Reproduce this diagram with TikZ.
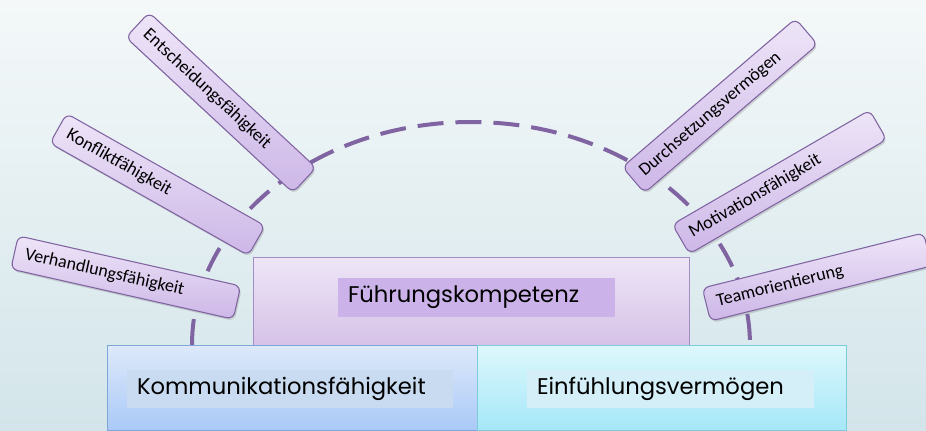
\documentclass[tikz,border=0pt]{standalone}
\usepackage{fontspec}
\setmainfont{Carlito}
\newfontfamily\gothic{Poppins}
\usetikzlibrary{shadows}
\definecolor{lila}{HTML}{8064A2}
\definecolor{skilltop}{HTML}{EEE5F8}
\definecolor{skillbot}{HTML}{CDB7E7}
\definecolor{bgtop}{HTML}{F4F8F9}
\definecolor{bgbot}{HTML}{D3E5EA}
\definecolor{fuetop}{HTML}{EEE6F7}
\definecolor{fuebot}{HTML}{D6C2E7}
\definecolor{fueline}{HTML}{A48DC4}
\definecolor{fuelabel}{HTML}{CBB2E9}
\definecolor{komtop}{HTML}{DEE9FA}
\definecolor{kombot}{HTML}{A9C9F7}
\definecolor{komline}{HTML}{7EA6D8}
\definecolor{komlabel}{HTML}{C8DBF0}
\definecolor{eintop}{HTML}{DDF8FC}
\definecolor{einbot}{HTML}{A5E7F8}
\definecolor{einline}{HTML}{7CCCDC}
\definecolor{einlabel}{HTML}{D4EFF7}
\tikzset{
    skillnode/.style={rounded corners=5pt,draw=lila,line width=0.8pt,top color=skilltop,bottom color=skillbot,
        minimum width=171pt,minimum height=25.5pt,text width=154.5pt,inner xsep=8.25pt,align=left,
        font=\fontsize{13.5}{15}\selectfont,drop shadow={opacity=0.3,shadow xshift=1pt,shadow yshift=-1.5pt}},
    basenode/.style={draw=#1line,top color=#1top,bottom color=#1bot,line width=0.6pt,minimum height=64pt,inner sep=0pt},
    labelnode/.style={fill=#1label,minimum height=29pt,inner xsep=7.5pt,align=left,font=\gothic\fontsize{17}{19}\selectfont},
    arcline/.style={draw=lila,line width=3pt,dash pattern=on 19.5pt off 9pt}
}
\begin{document}
\begin{tikzpicture}[x=0.75pt,y=-0.75pt]
	\useasboundingbox (0,0) rectangle (926,430);
	\fill[top color=bgtop,bottom color=bgbot] (0,0) rectangle (926,430);
	
	\coordinate (AL) at (192,345);
	\draw[arcline] (AL) arc[start angle=180,end angle=360,x radius=279,y radius=223];
	
	\node[skillnode,rotate=-12.7] (VH) at (125.75,277.5) {Verhandlungsfähigkeit};
	\node[skillnode,rotate=-29.5] (KF) at (157.5,184.5) {Konfliktfähigkeit};
	\node[skillnode,rotate=-42.9] (EF) at (221,102.5) {Entscheidungsfähigkeit};
	\node[skillnode,rotate=40.6] (DV) at (720,105.75) {Durchsetzungsvermögen};
	\node[skillnode,rotate=30.1] (MF) at (779.5,182) {Motivationsfähigkeit};
	\node[skillnode,rotate=14] (TO) at (817,277) {Teamorientierung};
	
	\node[basenode=fue,minimum width=327pt,minimum height=66pt] (FUE) at (471,301) {};
	\node[basenode=kom,minimum width=277.5pt] (KOM) at (292,388) {};
	\node[basenode=ein,minimum width=276.75pt] (EIN) at (661.5,388) {};
	
	\node[labelnode=fue,text width=192.75pt] (FUEl) at (476.5,297.5) {Führungskompetenz};
	\node[labelnode=kom,text width=229.5pt] (KOMl) at (290,389) {Kommunikationsfähigkeit};
	\node[labelnode=ein,text width=200.25pt] (EINl) at (670.5,389) {Einfühlungsvermögen};
\end{tikzpicture}
\end{document}
